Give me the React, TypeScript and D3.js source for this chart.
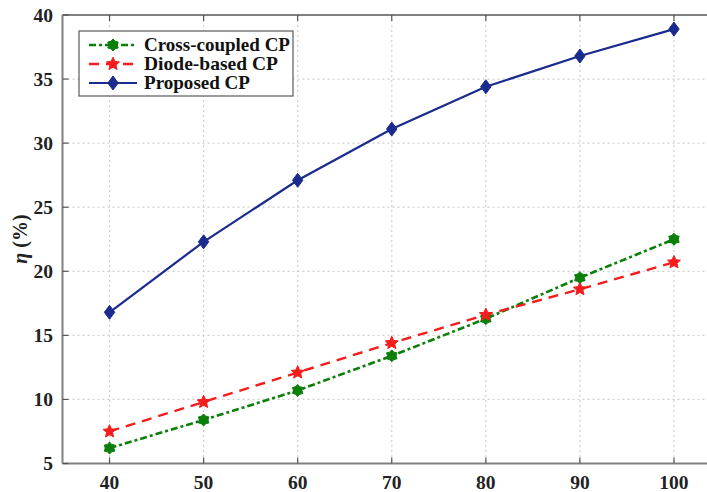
import React from "react";
import * as d3 from "d3";

const xValues = [40, 50, 60, 70, 80, 90, 100];
const crossCoupled = [6.2, 8.4, 10.7, 13.4, 16.3, 19.5, 22.5];
const diodeBased = [7.5, 9.8, 12.1, 14.4, 16.6, 18.6, 20.7];
const proposed = [16.8, 22.3, 27.1, 31.1, 34.4, 36.8, 38.9];
const xTicks = [40, 50, 60, 70, 80, 90, 100];
const yTicks = [5, 10, 15, 20, 25, 30, 35, 40];
const seriesNames = ["Cross-coupled CP", "Diode-based CP", "Proposed CP"];

const W = 707;
const H = 492;
const left = 62.5;
const top = 15;
const bottom = 463.5;
const rightEdge = 721;

function starPath(n: number, rOut: number, rIn: number): string {
  const pts: [number, number][] = [];
  for (let i = 0; i < n * 2; i++) {
    const r = i % 2 === 0 ? rOut : rIn;
    const a = -Math.PI / 2 + (i * Math.PI) / n;
    pts.push([r * Math.cos(a), r * Math.sin(a)]);
  }
  return "M" + pts.map((p) => p[0].toFixed(2) + "," + p[1].toFixed(2)).join("L") + "Z";
}

const diamondPath = "M0,-7L5.2,0L0,7L-5.2,0Z";

export default function App() {
  const x = d3.scaleLinear().domain([35, 105]).range([left, rightEdge]);
  const y = d3.scaleLinear().domain([5, 40]).range([bottom, top]);
  const line = d3
    .line<number>()
    .x((_, i) => x(xValues[i]))
    .y((d) => y(d));

  const series = [
    { name: seriesNames[0], data: crossCoupled, color: "#0a7f0a", dash: "7,3,3,3", width: 2.6, marker: starPath(6, 6, 4.3) },
    { name: seriesNames[1], data: diodeBased, color: "#f41c1c", dash: "10,7", width: 2.4, marker: starPath(5, 6.8, 3.2) },
    { name: seriesNames[2], data: proposed, color: "#1b2a8e", dash: "none", width: 2.2, marker: diamondPath },
  ];

  const font = "'Liberation Serif', 'Times New Roman', serif";
  const gridColor = "#cfcfcf";
  const axisColor = "#808080";

  return (
    <svg width={W} height={H} style={{ position: "absolute", left: 0, top: 0, background: "#fff" }} fontFamily={font}>
      <rect x={0} y={0} width={W} height={H} fill="#fff" />
      {/* grid */}
      {xTicks.map((t) => (
        <line key={"gx" + t} x1={x(t)} x2={x(t)} y1={top} y2={bottom} stroke={gridColor} strokeWidth={1.2} strokeDasharray="2,3" />
      ))}
      {yTicks.slice(1, -1).map((t) => (
        <line key={"gy" + t} x1={left} x2={W} y1={y(t)} y2={y(t)} stroke={gridColor} strokeWidth={1.2} strokeDasharray="2,3" />
      ))}
      {/* axes frame */}
      <line x1={left} x2={left} y1={top} y2={bottom} stroke={axisColor} strokeWidth={2} />
      <line x1={left} x2={W} y1={top} y2={top} stroke={axisColor} strokeWidth={2} />
      <line x1={left} x2={W} y1={bottom} y2={bottom} stroke={axisColor} strokeWidth={2} />
      {xTicks.map((t) => (
        <g key={"tx" + t}>
          <line x1={x(t)} x2={x(t)} y1={bottom} y2={bottom - 6} stroke="#555" strokeWidth={1.2} />
          <line x1={x(t)} x2={x(t)} y1={top} y2={top + 6} stroke="#555" strokeWidth={1.2} />
          <text x={x(t)} y={489} textAnchor="middle" fontSize={19.5} fontWeight="bold" fill="#222">
            {t}
          </text>
        </g>
      ))}
      {yTicks.map((t) => (
        <g key={"ty" + t}>
          <line x1={left} x2={left + 6} y1={y(t)} y2={y(t)} stroke="#555" strokeWidth={1.2} />
          <text x={53} y={y(t) + 6.5} textAnchor="end" fontSize={19.5} fontWeight="bold" fill="#222">
            {t}
          </text>
        </g>
      ))}
      <text transform={`translate(27,${239}) rotate(-90)`} textAnchor="middle" fontSize={20} fontWeight="bold" fill="#222">
        <tspan fontStyle="italic">η</tspan>
        <tspan> (%)</tspan>
      </text>
      {/* series */}
      {series.map((s) => (
        <g key={s.name}>
          <path d={line(s.data) || ""} fill="none" stroke={s.color} strokeWidth={s.width} strokeDasharray={s.dash} />
          {s.data.map((v, i) => (
            <path key={i} d={s.marker} transform={`translate(${x(xValues[i])},${y(v)})`} fill={s.color} stroke={s.color} strokeWidth={1} />
          ))}
        </g>
      ))}
      {/* legend */}
      <rect x={79} y={31} width={214} height={65} fill="#fff" stroke="#666" strokeWidth={1.3} />
      {series.map((s, i) => {
        const cy = 45 + i * 19;
        return (
          <g key={"lg" + i}>
            <line x1={89} x2={137} y1={cy} y2={cy} stroke={s.color} strokeWidth={s.width} strokeDasharray={s.dash} />
            <path d={s.marker} transform={`translate(113,${cy})`} fill={s.color} stroke={s.color} strokeWidth={1} />
            <text x={144} y={cy + 6} fontSize={19} fontWeight="bold" fill="#111" textLength={i === 0 ? 146 : i === 1 ? 134 : 106} lengthAdjust="spacingAndGlyphs">
              {s.name}
            </text>
          </g>
        );
      })}
    </svg>
  );
}
